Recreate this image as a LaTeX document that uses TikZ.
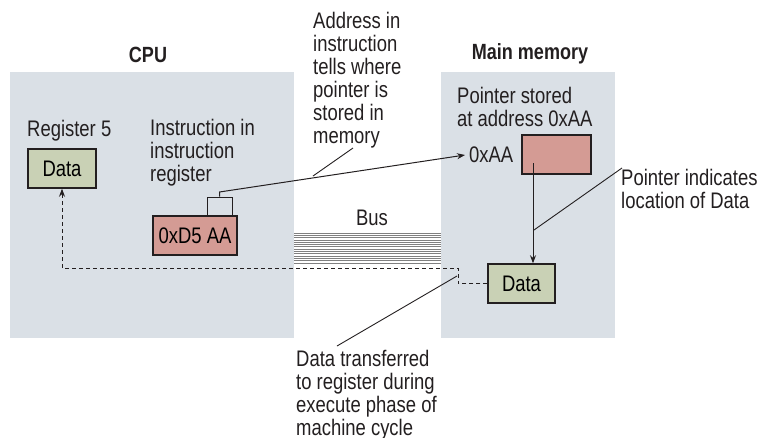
\documentclass[tikz,border=0pt]{standalone}
\usepackage{fontspec}
\setmainfont{Liberation Sans}[FakeStretch=0.82]
\usetikzlibrary{arrows.meta}
\definecolor{panel}{HTML}{DAE0E6}
\definecolor{grn}{HTML}{C9D1B5}
\definecolor{pnk}{HTML}{D49B94}
\definecolor{ink}{HTML}{231F20}
\definecolor{busgray}{HTML}{808080}
\begin{document}
\begin{tikzpicture}[x=1pt,y=-1pt,
  font=\fontsize{22.5}{23}\selectfont,
  panelbox/.style={fill=panel,draw=none},
  boxbase/.style={draw=ink,line width=1.5pt,inner sep=0pt,minimum height=39pt},
  regbox/.style={boxbase,fill=grn},
  ptrbox/.style={boxbase,fill=pnk},
  lbl/.style={anchor=north west,align=left,inner sep=0pt,text=ink},
  ttl/.style={font=\fontsize{22}{23}\selectfont\bfseries,text=ink,inner sep=0pt},
  conn/.style={draw=ink,line width=1pt},
  leader/.style={draw=ink,line width=0.9pt},
  dconn/.style={draw=ink,line width=1pt,dash pattern=on 4pt off 3pt},
  tip/.style={-{Stealth[length=8pt,width=6pt]}}
]
\useasboundingbox (0,0) rectangle (764,437);
% panels
\fill[panelbox] (10,72) rectangle (294,338);
\fill[panelbox] (441,72) rectangle (615,338);
% titles
\node[ttl] (cputitle) at (148,55) {CPU};
\node[ttl] (memtitle) at (530,54) {Main memory};
% bus
\foreach \i in {0,...,13}
  \draw[busgray,line width=0.8pt] (294,{233+\i*2.3}) -- (441,{233+\i*2.3});
\node[text=ink,inner sep=0pt] (bus) at (372,218) {Bus};
% labels
\node[lbl] (reglbl) at (27,120) {Register 5};
\node[lbl] (instlbl) at (150,119) {Instruction in\\instruction\\register};
\node[lbl] (addrlbl) at (313,12) {Address in\\instruction\\tells where\\pointer is\\stored in\\memory};
\node[lbl] (ptrlbl) at (457,87) {Pointer stored\\at address 0xAA};
\node[lbl] (loclbl) at (621,169) {Pointer indicates\\location of Data};
\node[lbl] (xferlbl) at (296,350) {Data transferred\\to register during\\execute phase of\\machine cycle};
% boxes
\node[regbox,minimum width=68pt] (reg) at (62,168.5) {Data};
\node[ptrbox,minimum width=84pt] (inst) at (195,235.5) {0xD5 AA};
\node[draw=ink,line width=1pt,minimum width=25pt,minimum height=18pt,inner sep=0pt] (addr) at (219.5,206) {};
\node[ptrbox,minimum width=69pt] (ptr) at (556.5,154.5) {};
\node[regbox,minimum width=67pt] (mdata) at (521.5,283.5) {Data};
\node[text=ink,anchor=west,inner xsep=4pt,inner ysep=0pt] (aa) at (465,155) {0xAA};
% address arrow
\coordinate (abend) at (219.5,192);
\draw[conn,tip] (addr.north) -- (abend) -- (aa.west);
% pointer arrow
\coordinate (pstart) at (533,163);
\draw[conn,tip] (pstart) -- (pstart |- mdata.north);
% dashed transfer
\coordinate (d1) at (458,283.5);
\coordinate (d2) at (458,268);
\coordinate (d3) at (62,268);
\draw[dconn,tip] (mdata.west) -- (d1) -- (d2) -- (d3) -- (reg.south);
% leaders
\coordinate (la1) at (353,148);
\coordinate (la2) at (313,176);
\draw[leader] (la1) -- (la2);
\coordinate (lb1) at (622,168);
\coordinate (lb2) at (534,230);
\draw[leader] (lb1) -- (lb2);
\coordinate (lc1) at (457,276);
\coordinate (lc2) at (337,346);
\draw[leader] (lc1) -- (lc2);
\end{tikzpicture}
\end{document}
